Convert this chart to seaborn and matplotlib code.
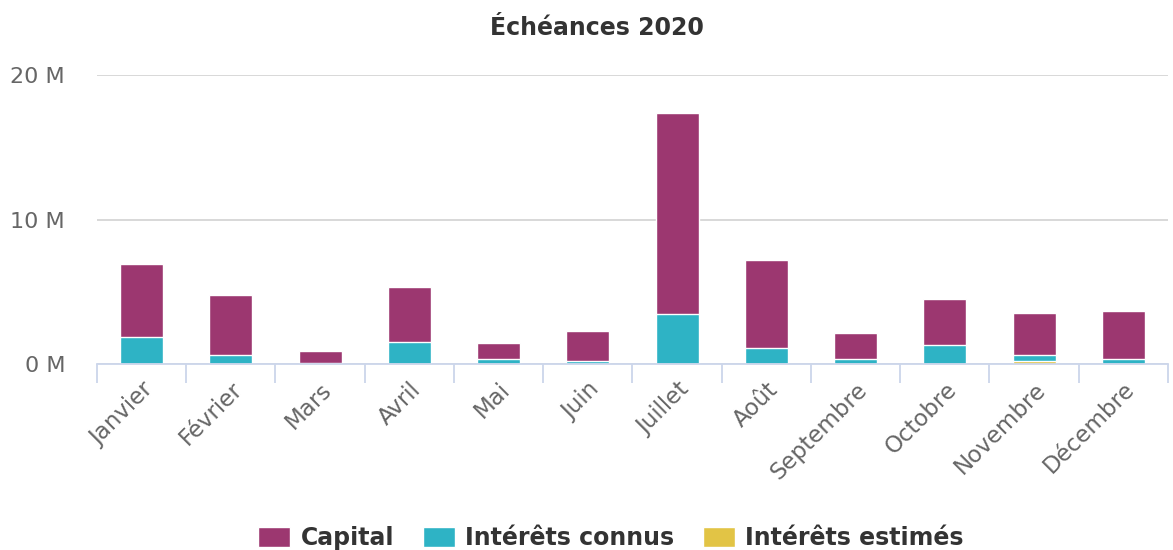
import matplotlib
matplotlib.use("Agg")
import matplotlib.pyplot as plt
import matplotlib.patches as mpatches
import matplotlib.ticker as mticker
import numpy as np
import pandas as pd
import seaborn as sns

MONTHS = ['Janvier', 'Février', 'Mars', 'Avril', 'Mai', 'Juin', 'Juillet',
          'Août', 'Septembre', 'Octobre', 'Novembre', 'Décembre']
CAPITAL = [5.05, 4.16, 0.85, 3.81, 1.10, 2.08, 13.9, 6.10, 1.80, 3.22, 2.93, 3.32]
INTERETS_CONNUS = [1.87, 0.62, 0.05, 1.52, 0.35, 0.20, 3.46, 1.10, 0.35, 1.30, 0.40, 0.35]
INTERETS_ESTIMES = [0, 0, 0, 0, 0, 0, 0, 0, 0, 0, 0.22, 0]

COLORS = {
    'Capital': '#9c3770',
    'Intérêts connus': '#2eb3c5',
    'Intérêts estimés': '#e2c445',
}

sns.set_style("white")
plt.rcParams['font.family'] = ['DejaVu Sans']

df = pd.DataFrame({
    'mois': MONTHS,
    'capital': np.array(CAPITAL) * 1e6,
    'connus': np.array(INTERETS_CONNUS) * 1e6,
    'estimes': np.array(INTERETS_ESTIMES) * 1e6,
})
# cumulative heights: estimés at bottom, connus, then capital on top
df['top_estimes'] = df['estimes']
df['top_connus'] = df['estimes'] + df['connus']
df['top_capital'] = df['top_connus'] + df['capital']

fig = plt.figure(figsize=(11.73, 5.5), dpi=100)
ax = fig.add_axes([97 / 1173, 1 - 364 / 550, 1071 / 1173, 289 / 550])

bar_kw = dict(width=0.48, edgecolor='white', linewidth=1.0, ax=ax, saturation=1)
sns.barplot(data=df, x='mois', y='top_capital', color=COLORS['Capital'], **bar_kw)
sns.barplot(data=df, x='mois', y='top_connus', color=COLORS['Intérêts connus'], **bar_kw)
sns.barplot(data=df, x='mois', y='top_estimes', color=COLORS['Intérêts estimés'], **bar_kw)

ax.set_xlim(-0.5, len(MONTHS) - 0.5)
ax.set_ylim(0, 20e6)
ax.set_yticks([0, 10e6, 20e6])
ax.yaxis.set_major_formatter(mticker.FuncFormatter(lambda v, p: f"{v / 1e6:.0f} M"))
ax.yaxis.grid(True, color='#d6d6d6', linewidth=1.3)
ax.set_axisbelow(True)
ax.set_xlabel('')
ax.set_ylabel('')

for s in ['top', 'right', 'left']:
    ax.spines[s].set_visible(False)
ax.spines['bottom'].set_color('#ccd6eb')
ax.spines['bottom'].set_linewidth(1.3)

ax.tick_params(axis='y', length=0, pad=23, labelsize=16, labelcolor='#666666')
ax.tick_params(axis='x', which='major', length=0, pad=10, labelsize=16.5, labelcolor='#666666')
ax.set_xticks(np.arange(-0.5, len(MONTHS), 1), minor=True)
ax.tick_params(axis='x', which='minor', bottom=True, length=14, width=1.3, color='#ccd6eb')
for lab in ax.get_xticklabels():
    lab.set_rotation(45)
    lab.set_ha('right')
    lab.set_rotation_mode('anchor')

fig.text(597 / 1173, 1 - 28 / 550, 'Échéances 2020', ha='center', va='center',
         fontsize=17, fontweight='bold', color='#333333')

handles = [mpatches.Patch(facecolor=c, edgecolor='white', label=k) for k, c in COLORS.items()]
fig.legend(handles=handles, loc='center', bbox_to_anchor=(0.521, 0.022), ncol=3,
           frameon=False, prop={'size': 17, 'weight': 'bold'}, labelcolor='#333333',
           handlelength=1.35, handleheight=0.95, handletextpad=0.45, columnspacing=1.2)

fig.savefig('out.png', dpi=100)
